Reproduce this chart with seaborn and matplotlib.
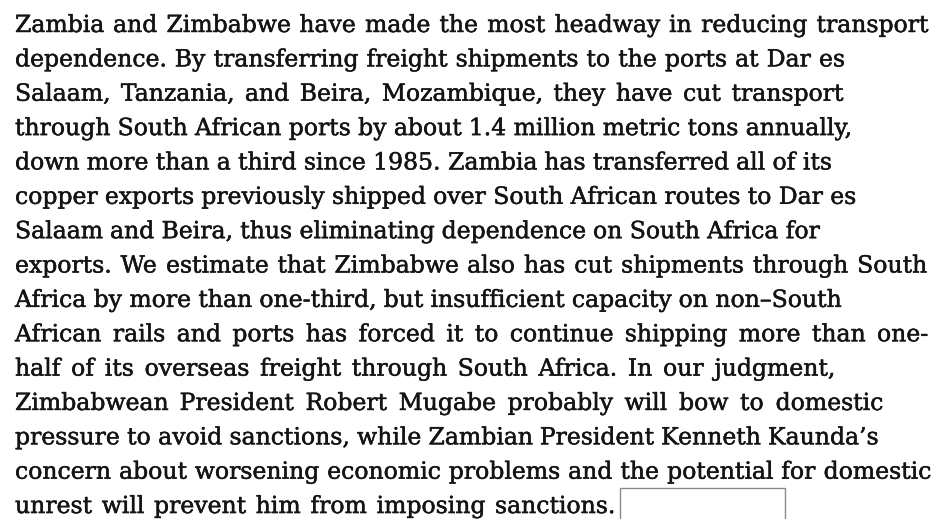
import matplotlib
matplotlib.use("Agg")
import matplotlib.pyplot as plt
from matplotlib.patches import Rectangle
import matplotlib.patheffects as pe
import seaborn as sns

# ---- content ----
lines = [
    "Zambia and Zimbabwe have made the most headway in reducing transport",
    "dependence. By transferring freight shipments to the ports at Dar es",
    "Salaam, Tanzania, and Beira, Mozambique, they have cut transport",
    "through South African ports by about 1.4 million metric tons annually,",
    "down more than a third since 1985. Zambia has transferred all of its",
    "copper exports previously shipped over South African routes to Dar es",
    "Salaam and Beira, thus eliminating dependence on South Africa for",
    "exports. We estimate that Zimbabwe also has cut shipments through South",
    "Africa by more than one-third, but insufficient capacity on non\u2013South",
    "African rails and ports has forced it to continue shipping more than one-",
    "half of its overseas freight through South Africa. In our judgment,",
    "Zimbabwean President Robert Mugabe probably will bow to domestic",
    "pressure to avoid sanctions, while Zambian President Kenneth Kaunda\u2019s",
    "concern about worsening economic problems and the potential for domestic",
    "unrest will prevent him from imposing sanctions.",
]
# right end of a line where it was measured on the reference (None = natural spacing)
line_ends = [928, 845, 843, None, None, None, None, 927, None, 928, 835, 883, None, 931, 615]

# ---- layout ----
W, H, DPI = 937, 519, 100
X0 = 15
BASE0 = 32
STEP = 34.36
REF_FS = 17.0
WIDEST = 912  # natural width given to the widest line

sns.set_theme(style="white")
plt.rcParams["font.family"] = ["DejaVu Serif"]

fig = plt.figure(figsize=(W / DPI, H / DPI), dpi=DPI)
fig.patch.set_facecolor("white")
ax = fig.add_axes([0, 0, 1, 1])
ax.set_xlim(0, W)
ax.set_ylim(H, 0)
ax.axis("off")

renderer = fig.canvas.get_renderer()


def width(s, size):
    t = ax.text(0, 0, s, fontsize=size)
    w = t.get_window_extent(renderer).width
    t.remove()
    return w


# size the type so the widest line fits
wmax = max(width(l, REF_FS) for l in lines)
fs = REF_FS * WIDEST / wmax
space = width("x x", fs) - width("xx", fs)

effects = [pe.withStroke(linewidth=0.35, foreground="#141414")]
for i, (line, end) in enumerate(zip(lines, line_ends)):
    y = BASE0 + i * STEP
    words = line.split(" ")
    widths = [width(w, fs) for w in words]
    if end is None:
        gap = space
    else:
        gap = (end - X0 - sum(widths)) / max(len(words) - 1, 1)
    x = X0
    for w, wd in zip(words, widths):
        ax.text(x, y, w, fontsize=fs, color="#141414", ha="left", va="baseline",
                path_effects=effects)
        x += wd + gap

ax.add_patch(Rectangle((620, 488), 165, 40, fill=False, edgecolor="#8a8a8a", linewidth=1.0))

fig.savefig("out.png", dpi=DPI, facecolor="white")
